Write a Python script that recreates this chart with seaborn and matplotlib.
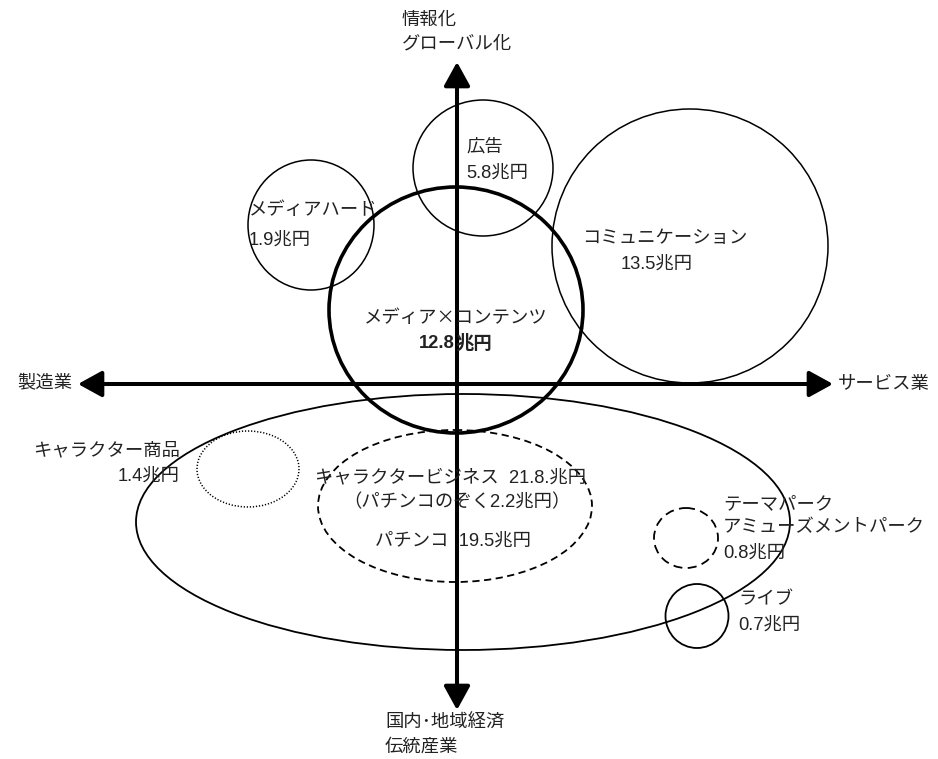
import matplotlib
matplotlib.use("Agg")
import matplotlib.pyplot as plt
from matplotlib.patches import Ellipse, FancyArrowPatch
import seaborn as sns

# segments of the content market (trillion yen)
segments = ["広告", "メディアハード", "コミュニケーション", "メディア×コンテンツ",
            "キャラクタービジネス", "パチンコ", "キャラクター商品",
            "テーマパーク\nアミューズメントパーク", "ライブ"]
values = [5.8, 1.9, 13.5, 12.8, 21.8, 19.5, 1.4, 0.8, 0.7]
non_pachinko = 2.2

# axis end labels
axis_labels = {
    "top": "情報化\nグローバル化",
    "bottom": "国内･地域経済\n伝統産業",
    "left": "製造業",
    "right": "サービス業",
}

# layout in pixels: centre x, centre y, width, height
shapes = [
    (483, 168, 140, 136),
    (311, 225, 126, 130),
    (690, 246, 276, 274),
    (456, 310, 254, 246),
    (463, 522, 654, 256),
    (455, 506, 274, 152),
    (248, 469, 102, 76),
    (686, 538, 64, 60),
    (697, 616, 63, 64),
]
styles = [
    ("-", 1.1), ("-", 1.1), ("-", 1.1), ("-", 2.6), ("-", 1.3),
    ((0, (4, 2.5)), 1.3), ((0, (0.8, 1.2)), 1.1), ((0, (5, 3)), 1.3), ("-", 1.3),
]

sns.set_theme(style="white")
plt.rcParams["font.family"] = ["Liberation Sans", "Noto Sans CJK JP"]

W, H = 938, 759
fig = plt.figure(figsize=(W / 100, H / 100), dpi=100)
ax = fig.add_axes([0, 0, 1, 1])
ax.set_xlim(0, W)
ax.set_ylim(H, 0)
ax.axis("off")

for (cx, cy, w, h), (ls, lw) in zip(shapes, styles):
    ax.add_patch(Ellipse((cx, cy), w, h, fill=False, ec="black", ls=ls, lw=lw, zorder=2))

# axes arrows
ox, oy = 457, 384
arrow_style = "-|>,head_length=1.0,head_width=0.55"
for tip in [(ox, 62), (ox, 710), (78, oy), (833, oy)]:
    ax.add_patch(FancyArrowPatch((ox, oy), tip, arrowstyle=arrow_style,
                                 mutation_scale=14.5, lw=2.9, color="black",
                                 shrinkA=0, shrinkB=0, zorder=3))

fs = 13.2
tc = "#222222"
kw = dict(fontsize=fs, color=tc, zorder=4)

ax.text(402, 32, axis_labels["top"], ha="left", va="center", linespacing=1.5, **kw)
ax.text(385, 735, axis_labels["bottom"], ha="left", va="center", linespacing=1.5, **kw)
ax.text(72, oy, axis_labels["left"], ha="right", va="center", **kw)
ax.text(838, oy, axis_labels["right"], ha="left", va="center", **kw)

def money(v):
    return f"{v}兆円"

# 広告
ax.text(466, 147, segments[0], ha="left", va="center", **kw)
ax.text(466, 173, money(values[0]), ha="left", va="center", **kw)
# メディアハード
ax.text(249, 211, segments[1], ha="left", va="center", **kw)
ax.text(249, 240, money(values[1]), ha="left", va="center", **kw)
# コミュニケーション
ax.text(665, 238, segments[2], ha="center", va="center", **kw)
ax.text(657, 264, money(values[2]), ha="center", va="center", **kw)
# メディア×コンテンツ (number in bold, unit regular)
ax.text(456, 318, segments[3], ha="center", va="center",
        family=["Noto Sans CJK JP"], **kw)
ax.text(455, 343, f"{values[3]}", ha="right", va="center", fontweight="bold", **kw)
ax.text(455, 343, "兆円", ha="left", va="center", fontweight="bold", **kw)
# キャラクタービジネス / パチンコ
ax.text(315, 478, f"{segments[4]}  {values[4]}.兆円", ha="left", va="center", **kw)
ax.text(343, 503, f"（パチンコのぞく{non_pachinko}兆円）", ha="left", va="center", **kw)
ax.text(375, 541, f"{segments[5]}  {money(values[5])}", ha="left", va="center", **kw)
# キャラクター商品
ax.text(180, 451, segments[6], ha="right", va="center", **kw)
ax.text(180, 476, money(values[6]), ha="right", va="center", **kw)
# テーマパーク
ax.text(723, 516, segments[7], ha="left", va="center", linespacing=1.45, **kw)
ax.text(723, 553, money(values[7]), ha="left", va="center", **kw)
# ライブ
ax.text(738, 600, segments[8], ha="left", va="center", **kw)
ax.text(738, 625, money(values[8]), ha="left", va="center", **kw)

fig.savefig("out.png", dpi=100, facecolor="white")
